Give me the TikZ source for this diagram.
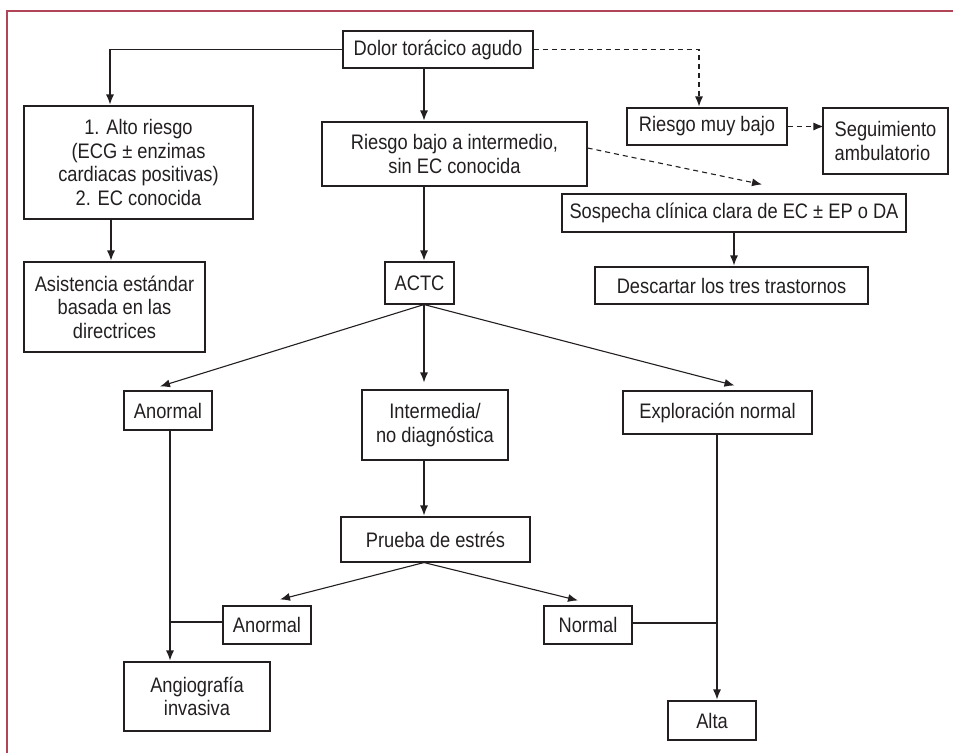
\documentclass[tikz,border=0pt]{standalone}
\usepackage{fontspec}
\setmainfont{Liberation Sans}[FakeStretch=0.87]
\usetikzlibrary{arrows.meta}
\definecolor{framered}{RGB}{178,68,88}
\definecolor{ink}{RGB}{35,31,32}

\begin{document}
\begin{tikzpicture}[x=1pt, y=-1pt, >={Latex[length=10pt,width=8pt]}]
			\tikzstyle{box} = [draw=ink, line width=1.1pt, text=ink, inner sep=2pt, align=center, font=\fontsize{21}{23.5}\selectfont]
			\tikzstyle{link} = [draw=ink, line width=1.1pt]
			\tikzstyle{maybe} = [link, dash pattern=on 5pt off 4pt]

			\useasboundingbox (0,0) rectangle (953,753);
			\draw[framered, line width=2pt] (7,753) -- (7,11) -- (953,11);

			\coordinate (lcol) at (170,0);
			\coordinate (mcol) at (424,0);
			\coordinate (rcol) at (717,0);

			\begin{scope}
			\path
			node[box, minimum width=190pt, minimum height=37pt] (a) at (438,49.5) {Dolor torácico agudo}
			node[box, minimum width=229pt, minimum height=113pt] (b) at (138.5,162.5) {1. Alto riesgo\\(ECG ± enzimas\\cardiacas positivas)\\2. EC conocida}
			node[box, minimum width=265pt, minimum height=64pt] (c) at (454.5,154) {Riesgo bajo a intermedio,\\sin EC conocida}
			node[box, minimum width=160pt, minimum height=37pt] (d) at (707,126.5) {Riesgo muy bajo}
			node[box, minimum width=125pt, minimum height=66pt, align=left] (e) at (885.5,141) {Seguimiento\\ambulatorio}
			node[box, minimum width=344pt, minimum height=38pt] (f) at (734,213) {Sospecha clínica clara de EC ± EP o DA}
			node[box, minimum width=273pt, minimum height=37pt] (g) at (731.5,285.5) {Descartar los tres trastornos}
			node[box, minimum width=181pt, minimum height=90pt] (h) at (114.5,307) {Asistencia estándar\\basada en las\\directrices}
			node[box, minimum width=69pt, minimum height=42pt] (i) at (419.5,283) {ACTC}
			node[box, minimum width=88pt, minimum height=39pt] (j) at (168,410.5) {Anormal}
			node[box, minimum width=146pt, minimum height=70pt] (k) at (435,425) {Intermedia/\\no diagnóstica}
			node[box, minimum width=189pt, minimum height=43pt] (l) at (717.5,412.5) {Exploración normal}
			node[box, minimum width=189pt, minimum height=45pt] (m) at (435.5,539.5) {Prueba de estrés}
			node[box, minimum width=88pt, minimum height=38pt] (n) at (267,625) {Anormal}
			node[box, minimum width=88pt, minimum height=38pt] (o) at (588,625) {Normal}
			node[box, minimum width=146pt, minimum height=69pt] (p) at (197,696.5) {Angiografía\\invasiva}
			node[box, minimum width=88pt, minimum height=39pt] (q) at (712,720.5) {Alta};

			\draw[link, ->] (a.west) -| ([xshift=-28.5pt, yshift=1pt]b.north);
			\draw[link, ->] ([xshift=-27.5pt]b.south) -- ([xshift=-27.5pt, yshift=1pt]b.south |- h.north);
			\draw[maybe, ->] (a.east) -| ([xshift=-8pt, yshift=1pt]d.north);
			\draw[maybe, ->] (d.east) -- ([xshift=1pt]d.east -| e.west);
			\draw[maybe, ->] ([yshift=6pt]c.east) -- ([xshift=28pt, yshift=9pt]f.north);

			\path[->, ink, line width=1.1pt]
			(a.south -| mcol) edge ([yshift=1pt]c.north -| mcol)
			(c.south -| mcol) edge ([yshift=1pt]i.north -| mcol)
			(f.south) edge ([yshift=1pt]f.south |- g.north)
			(i.south -| mcol) edge ([xshift=-8pt, yshift=4pt]j.north)
			(i.south -| mcol) edge ([yshift=7pt]k.north -| mcol)
			(i.south -| mcol) edge ([xshift=17pt, yshift=5pt]l.north)
			(k.south -| mcol) edge ([yshift=1pt]m.north -| mcol)
			(m.south -| mcol) edge ([xshift=13pt, yshift=6pt]n.north)
			(m.south -| mcol) edge ([xshift=-10pt, yshift=5pt]o.north)
			(j.south -| lcol) edge ([yshift=1pt]p.north -| lcol)
			(l.south -| rcol) edge ([yshift=1pt]q.north -| rcol)
			;
			\draw[link] ([yshift=3pt]n.west) -- ([yshift=3pt]n.west -| lcol);
			\draw[link] ([yshift=2pt]o.east) -- ([yshift=2pt]o.east -| rcol);
			\end{scope}

			\end{tikzpicture}
\end{document}
